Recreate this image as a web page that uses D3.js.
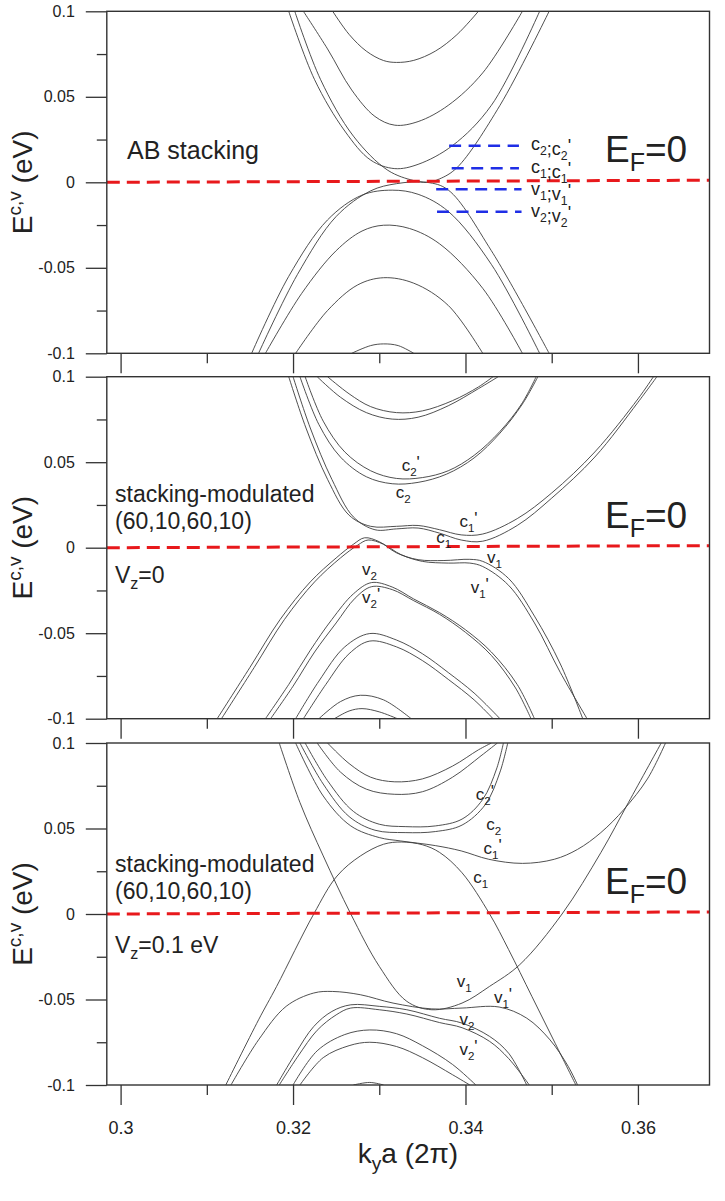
<!DOCTYPE html>
<html>
<head>
<meta charset="utf-8">
<script src="https://cdn.jsdelivr.net/npm/d3@7"></script>
<style>
  body { margin: 0; background: #fff; }
  svg text { font-family: "Liberation Sans", Arial, sans-serif; fill: #222; }
</style>
</head>
<body>
<div class="chart"></div>
<script>
const WIDTH = 725;
const HEIGHT = 1201;
const FONT = "'Liberation Sans', Arial, sans-serif";

// k_y a (2pi) vs E (eV), one array per band
// ---- panel 1 : AB stacking
var ab_c3 = [[0.3246,0.1],[0.3265,0.0865],[0.3285,0.0767],[0.3305,0.0712],[0.3320,0.0701],[0.3340,0.0713],[0.3365,0.0767],[0.3390,0.0863],[0.3415,0.1]];
var ab_c2 = [[0.3212,0.1],[0.3240,0.0780],[0.3268,0.0540],[0.3295,0.0385],[0.3318,0.0334],[0.3345,0.0355],[0.3380,0.0450],[0.3420,0.0640],[0.3466,0.1]];
var ab_c1a = [[0.3195,0.1],[0.3225,0.0600],[0.3260,0.0300],[0.3290,0.0130],[0.3318,0.0080],[0.3345,0.0105],[0.3385,0.0215],[0.3430,0.0450],[0.3486,0.1]];
var ab_c1b = [[0.3202,0.1],[0.3232,0.0600],[0.3270,0.0270],[0.3310,0.0070],[0.3340,0.0010],[0.3355,0.0],[0.3370,0.0020],[0.3390,0.0085],[0.3440,0.0450],[0.3497,0.1]];
var ab_v1a = [[0.3152,-0.1],[0.3195,-0.0550],[0.3240,-0.0220],[0.3280,-0.0075],[0.3315,-0.0046],[0.3345,-0.0070],[0.3380,-0.0170],[0.3430,-0.0480],[0.3486,-0.1]];
var ab_v1b = [[0.3160,-0.1],[0.3205,-0.0540],[0.3250,-0.0200],[0.3290,-0.0050],[0.3320,-0.0008],[0.3355,0.0],[0.3380,-0.0045],[0.3430,-0.0400],[0.3497,-0.1]];
var ab_v2 = [[0.3168,-0.1],[0.3210,-0.0650],[0.3250,-0.0400],[0.3280,-0.0285],[0.3305,-0.0251],[0.3335,-0.0270],[0.3370,-0.0360],[0.3420,-0.0620],[0.3466,-0.1]];
var ab_v3 = [[0.3203,-0.1],[0.3240,-0.0750],[0.3275,-0.0600],[0.3305,-0.0558],[0.3340,-0.0590],[0.3380,-0.0720],[0.3420,-0.1]];
var ab_v4 = [[0.3268,-0.1],[0.3290,-0.0955],[0.3305,-0.0945],[0.3322,-0.0955],[0.3340,-0.1]];

// ---- panel 2 : stacking-modulated, Vz = 0
var md_c3a = [[0.3240,0.1],[0.3265,0.0900],[0.3290,0.0825],[0.3320,0.0790],[0.3350,0.0800],[0.3385,0.0860],[0.3415,0.0940],[0.3432,0.1]];
var md_c3b = [[0.3228,0.1],[0.3255,0.0880],[0.3285,0.0790],[0.3315,0.0752],[0.3345,0.0763],[0.3380,0.0830],[0.3415,0.0930],[0.3438,0.1]];
var md_c2a = [[0.3214,0.1],[0.3235,0.0740],[0.3260,0.0560],[0.3290,0.0450],[0.3320,0.0405],[0.3350,0.0410],[0.3380,0.0450],[0.3410,0.0540],[0.3440,0.0680],[0.3465,0.0840],[0.3482,0.1]];
var md_c2b = [[0.3208,0.1],[0.3230,0.0720],[0.3255,0.0530],[0.3285,0.0415],[0.3315,0.0374],[0.3345,0.0382],[0.3378,0.0430],[0.3410,0.0525],[0.3440,0.0670],[0.3466,0.0840],[0.3484,0.1]];
var md_c1a = [[0.3195,0.1],[0.3215,0.0700],[0.3240,0.0400],[0.3265,0.0190],[0.3290,0.0125],[0.3320,0.0125],[0.3345,0.0130],[0.3370,0.0105],[0.3395,0.0075],[0.3420,0.0080],[0.3460,0.0170],[0.3500,0.0320],[0.3550,0.0560],[0.3600,0.0870],[0.3618,0.1]];
var md_c1b = [[0.3200,0.1],[0.3220,0.0700],[0.3245,0.0400],[0.3270,0.0180],[0.3295,0.0105],[0.3320,0.0110],[0.3345,0.0115],[0.3370,0.0085],[0.3395,0.0045],[0.3420,0.0038],[0.3460,0.0130],[0.3500,0.0290],[0.3550,0.0530],[0.3600,0.0850],[0.3622,0.1]];
var md_v1a = [[0.3112,-0.1],[0.3150,-0.0700],[0.3185,-0.0420],[0.3220,-0.0200],[0.3250,-0.0060],[0.3270,0.0020],[0.3283,0.0058],[0.3300,0.0035],[0.3320,-0.0030],[0.3345,-0.0070],[0.3375,-0.0075],[0.3405,-0.0068],[0.3420,-0.0080],[0.3450,-0.0180],[0.3480,-0.0400],[0.3510,-0.0680],[0.3536,-0.1]];
var md_v1b = [[0.3117,-0.1],[0.3155,-0.0700],[0.3190,-0.0420],[0.3225,-0.0200],[0.3255,-0.0060],[0.3275,0.0015],[0.3287,0.0045],[0.3305,0.0020],[0.3325,-0.0040],[0.3350,-0.0080],[0.3380,-0.0090],[0.3405,-0.0090],[0.3420,-0.0110],[0.3450,-0.0220],[0.3480,-0.0440],[0.3510,-0.0730],[0.3541,-0.1]];
var md_v2a = [[0.3168,-0.1],[0.3195,-0.0800],[0.3220,-0.0600],[0.3245,-0.0420],[0.3270,-0.0270],[0.3291,-0.0204],[0.3315,-0.0230],[0.3340,-0.0300],[0.3370,-0.0380],[0.3400,-0.0480],[0.3430,-0.0610],[0.3460,-0.0800],[0.3480,-0.1]];
var md_v2b = [[0.3174,-0.1],[0.3200,-0.0810],[0.3225,-0.0610],[0.3250,-0.0440],[0.3272,-0.0295],[0.3291,-0.0228],[0.3315,-0.0245],[0.3340,-0.0310],[0.3370,-0.0390],[0.3400,-0.0495],[0.3430,-0.0630],[0.3458,-0.0820],[0.3476,-0.1]];
var md_v3a = [[0.3203,-0.1],[0.3230,-0.0780],[0.3260,-0.0580],[0.3289,-0.0502],[0.3320,-0.0540],[0.3350,-0.0620],[0.3380,-0.0730],[0.3410,-0.0850],[0.3440,-0.1]];
var md_v3b = [[0.3212,-0.1],[0.3238,-0.0800],[0.3265,-0.0620],[0.3289,-0.0546],[0.3320,-0.0580],[0.3350,-0.0660],[0.3380,-0.0770],[0.3410,-0.0890],[0.3432,-0.1]];
var md_v4a = [[0.3230,-0.1],[0.3255,-0.0900],[0.3278,-0.0863],[0.3305,-0.0890],[0.3337,-0.1]];
var md_v4b = [[0.3248,-0.1],[0.3265,-0.0955],[0.3280,-0.0941],[0.3300,-0.0960],[0.3321,-0.1]];

// ---- panel 3 : stacking-modulated, Vz = 0.1 eV
var pm_c3a = [[0.3240,0.1],[0.3265,0.0880],[0.3290,0.0800],[0.3318,0.0773],[0.3350,0.0790],[0.3385,0.0865],[0.3415,0.0960],[0.3430,0.1]];
var pm_c3b = [[0.3228,0.1],[0.3255,0.0830],[0.3285,0.0730],[0.3318,0.0700],[0.3350,0.0715],[0.3385,0.0800],[0.3418,0.0925],[0.3437,0.1]];
var pm_c2a = [[0.3214,0.1],[0.3240,0.0780],[0.3270,0.0600],[0.3300,0.0525],[0.3330,0.0511],[0.3365,0.0515],[0.3396,0.0555],[0.3420,0.0670],[0.3436,0.0848],[0.3444,0.1]];
var pm_c2b = [[0.3208,0.1],[0.3235,0.0760],[0.3265,0.0570],[0.3295,0.0490],[0.3330,0.0476],[0.3365,0.0482],[0.3396,0.0520],[0.3423,0.0640],[0.3440,0.0830],[0.3449,0.1]];
var pm_c1p = [[0.3203,0.1],[0.3235,0.0690],[0.3267,0.0515],[0.3300,0.0447],[0.3325,0.0427],[0.3365,0.0400],[0.3395,0.0369],[0.3427,0.0320],[0.3466,0.0296],[0.3503,0.0320],[0.3530,0.0378],[0.3557,0.0476],[0.3584,0.0613],[0.3611,0.0790],[0.3632,0.1]];
var pm_c1 = [[0.3122,-0.1],[0.3160,-0.0619],[0.3181,-0.0423],[0.3224,0.0],[0.3251,0.0222],[0.3278,0.0339],[0.3305,0.0408],[0.3326,0.0421],[0.3350,0.0405],[0.3370,0.0360],[0.3396,0.0241],[0.3428,0.0],[0.3450,-0.0208],[0.3477,-0.0482],[0.3504,-0.0756],[0.3528,-0.1]];
var pm_v1 = [[0.3184,0.1],[0.3208,0.0652],[0.3235,0.0340],[0.3267,0.0],[0.3300,-0.0306],[0.3332,-0.0511],[0.3361,-0.0560],[0.3396,-0.0521],[0.3428,-0.0423],[0.3463,-0.0296],[0.3512,0.0],[0.3557,0.0359],[0.3589,0.0652],[0.3627,0.1]];
var pm_v1p = [[0.3128,-0.1],[0.3160,-0.0736],[0.3192,-0.0540],[0.3224,-0.0462],[0.3246,-0.0453],[0.3278,-0.0472],[0.3316,-0.0521],[0.3361,-0.0555],[0.3396,-0.0550],[0.3439,-0.0544],[0.3471,-0.0609],[0.3498,-0.0736],[0.3519,-0.0890],[0.3530,-0.1]];
var pm_v2a = [[0.3181,-0.1],[0.3203,-0.0814],[0.3224,-0.0658],[0.3245,-0.0570],[0.3267,-0.0531],[0.3300,-0.0540],[0.3332,-0.0560],[0.3370,-0.0610],[0.3396,-0.0638],[0.3428,-0.0716],[0.3450,-0.0814],[0.3471,-0.1]];
var pm_v2b = [[0.3184,-0.1],[0.3206,-0.0830],[0.3228,-0.0680],[0.3250,-0.0590],[0.3267,-0.0550],[0.3300,-0.0560],[0.3332,-0.0585],[0.3370,-0.0635],[0.3396,-0.0665],[0.3428,-0.0745],[0.3450,-0.0845],[0.3474,-0.1]];
var pm_v3a = [[0.3200,-0.1],[0.3228,-0.0800],[0.3260,-0.0705],[0.3289,-0.0678],[0.3320,-0.0700],[0.3350,-0.0770],[0.3385,-0.0880],[0.3412,-0.1]];
var pm_v3b = [[0.3208,-0.1],[0.3235,-0.0840],[0.3265,-0.0770],[0.3289,-0.0750],[0.3320,-0.0775],[0.3350,-0.0840],[0.3385,-0.0940],[0.3405,-0.1]];
var pm_v4 = [[0.3270,-0.1],[0.3289,-0.0985],[0.3305,-0.1]];

// Fermi level (dashed red), slightly tilted in the original
var fermiLine = [[0.2984,0.0],[0.3683,0.0012]];

// blue markers in panel 1: [E, kStart, kEnd]
var abLevels = [[0.0214,0.3381,0.3462],[0.0082,0.3384,0.3462],[-0.0041,0.3366,0.3465],[-0.0172,0.3367,0.3465]];
// labels: [letter, subscript, prime, k, E]
var abLevelLabels = [["c","2",true,0.3476,0.0189],["c","1",true,0.3476,0.0056],["v","1",true,0.3476,-0.0074],["v","2",true,0.3476,-0.0203]];
var mdLabels = [["c","2",true,0.3326,0.0449],["c","2",false,0.3319,0.0291],["c","1",true,0.3393,0.0121],["c","1",false,0.3366,0.0027],
                ["v","1",false,0.3425,-0.0089],["v","1",true,0.3406,-0.0265],["v","2",false,0.3280,-0.0160],["v","2",true,0.3280,-0.0323]];
var pmLabels = [["c","2",true,0.3412,0.0667],["c","2",false,0.3424,0.0491],["c","1",true,0.3421,0.0350],["c","1",false,0.3409,0.0181],
                ["v","1",false,0.3390,-0.0427],["v","1",true,0.3433,-0.0520],["v","2",false,0.3393,-0.0649],["v","2",true,0.3393,-0.0825]];

var xMajor = [0.30, 0.32, 0.34, 0.36];
var xMinor = [0.31, 0.33, 0.35];
var yMajor = [-0.1, -0.05, 0, 0.05, 0.1];
var yMinor = [-0.075, -0.025, 0.025, 0.075];

var panels = [
  { bands: [ab_c3, ab_c2, ab_c1a, ab_c1b, ab_v1a, ab_v1b, ab_v2, ab_v3, ab_v4], labels: [], lines: ["AB stacking"], levels: true },
  { bands: [md_c3a, md_c3b, md_c2a, md_c2b, md_c1a, md_c1b, md_v1a, md_v1b, md_v2a, md_v2b, md_v3a, md_v3b, md_v4a, md_v4b],
    labels: mdLabels, lines: ["stacking-modulated", "(60,10,60,10)"], vz: "=0" },
  { bands: [pm_c3a, pm_c3b, pm_c2a, pm_c2b, pm_c1p, pm_c1, pm_v1, pm_v1p, pm_v2a, pm_v2b, pm_v3a, pm_v3b, pm_v4],
    labels: pmLabels, lines: ["stacking-modulated", "(60,10,60,10)"], vz: "=0.1 eV" }
];

var TOPS = [11.3, 376.7, 743];
var PH = 342;
var X0 = 106.8, X1 = 709.5;

var svg = d3.select(".chart").append("svg")
  .attr("width", WIDTH)
  .attr("height", HEIGHT)
  .attr("font-family", FONT);

var x = d3.scaleLinear().domain([0.2984, 0.3683]).range([X0, X1]);
var y = d3.scaleLinear().domain([-0.1, 0.1]).range([PH, 0]);

var line = d3.line()
  .x(function (d) { return x(d[0]); })
  .y(function (d) { return y(d[1]); })
  .curve(d3.curveCatmullRom.alpha(0.5));

svg.append("clipPath").attr("id", "clip")
  .append("rect").attr("x", X0).attr("y", 0).attr("width", X1 - X0).attr("height", PH);

// letter, subscript, optional prime sitting just above the subscript
var addSub = function (t, letter, sub, prime, size) {
  var dsub = size * 0.28;
  t.append("tspan").text(letter);
  t.append("tspan").attr("dy", dsub).style("font-size", (size * 0.68) + "px").text(sub);
  if (prime) {
    t.append("tspan").attr("dy", -dsub - 3).text("'");
    t.append("tspan").attr("dy", 3).text("");
  } else {
    t.append("tspan").attr("dy", -dsub).text("");
  }
};

panels.forEach(function (p, i) {
  var g = svg.append("g").attr("transform", "translate(0," + TOPS[i] + ")");

  // axes
  var yAx = g.append("g").attr("transform", "translate(" + X0 + ",0)")
    .call(d3.axisLeft(y).tickValues(yMajor).tickSize(21).tickPadding(11).tickFormat(function (d) { return String(d); }));
  g.append("g").attr("transform", "translate(" + X0 + ",0)")
    .call(d3.axisLeft(y).tickValues(yMinor).tickSize(10).tickFormat(""));
  var xAx = g.append("g").attr("transform", "translate(0," + PH + ")")
    .call(d3.axisBottom(x).tickValues(xMajor).tickSize(20).tickFormat(function (d) { return String(d); }));
  g.append("g").attr("transform", "translate(0," + PH + ")")
    .call(d3.axisBottom(x).tickValues(xMinor).tickSize(10).tickFormat(""));
  g.selectAll(".domain").remove();
  g.selectAll(".tick line").attr("stroke", "#333").attr("stroke-width", 1.3);
  g.selectAll("g").attr("font-family", FONT);
  yAx.selectAll("text").attr("font-size", 16).attr("fill", "#222");
  if (i < 2) xAx.selectAll("text").remove();
  else xAx.selectAll("text").attr("y", 49).attr("dy", null).attr("font-size", 18).attr("fill", "#222");

  // bands
  var plot = g.append("g").attr("clip-path", "url(#clip)");
  plot.selectAll("path.band")
    .data(p.bands)
    .enter()
    .append("path")
    .attr("class", "band")
    .attr("d", line)
    .attr("fill", "none")
    .attr("stroke", "#3c3c3c")
    .attr("stroke-width", 0.9);

  // Fermi level
  plot.append("path")
    .attr("d", d3.line().x(function (d) { return x(d[0]); }).y(function (d) { return y(d[1]); })(fermiLine))
    .attr("stroke", "#e8191c").attr("stroke-width", 3).attr("stroke-dasharray", "13,7").attr("fill", "none");

  if (p.levels) {
    plot.selectAll("line.lvl")
      .data(abLevels)
      .enter()
      .append("line")
      .attr("x1", function (d) { return x(d[1]); })
      .attr("x2", function (d) { return x(d[2]); })
      .attr("y1", function (d) { return y(d[0]); })
      .attr("y2", function (d) { return y(d[0]); })
      .attr("stroke", "#1f2ee6").attr("stroke-width", 2.6).attr("stroke-dasharray", "12,7.5");
    abLevelLabels.forEach(function (d) {
      var t = g.append("text").attr("x", x(d[3])).attr("y", y(d[4])).style("font-size", "18px");
      addSub(t, d[0], d[1], false, 18);
      t.append("tspan").text(";");
      addSub(t, d[0], d[1], d[2], 18);
    });
  }

  p.labels.forEach(function (d) {
    var t = g.append("text").attr("x", x(d[3])).attr("y", y(d[4])).style("font-size", "17px");
    addSub(t, d[0], d[1], d[2], 17);
  });

  // frame
  g.append("rect").attr("x", X0).attr("y", 0).attr("width", X1 - X0).attr("height", PH)
    .attr("fill", "none").attr("stroke", "#333").attr("stroke-width", 1.4);

  // annotations
  var ann = g.append("g");
  if (i === 0) {
    ann.append("text").attr("x", 127).attr("y", 148).style("font-size", "25px").text(p.lines[0]);
  } else {
    var base = i === 1 ? 125 : 128.7;
    ann.append("text").attr("x", 115).attr("y", base).style("font-size", "23px").text(p.lines[0]);
    ann.append("text").attr("x", 115).attr("y", base + 27).style("font-size", "23px").text(p.lines[1]);
    var vz = ann.append("text").attr("x", 115).attr("y", base + 81).style("font-size", "23px");
    vz.append("tspan").text("V");
    vz.append("tspan").attr("dy", 6).style("font-size", "16px").text("z");
    vz.append("tspan").attr("dy", -6).text(p.vz);
  }
  var ef = ann.append("text").attr("x", 605).attr("y", 151).style("font-size", "37px");
  ef.append("tspan").text("E");
  ef.append("tspan").attr("dy", 9).style("font-size", "25px").text("F");
  ef.append("tspan").attr("dy", -9).text("=0");

  // y title
  var yt = g.append("text")
    .attr("transform", "translate(32," + (PH / 2) + ") rotate(-90)")
    .attr("text-anchor", "middle")
    .style("font-size", "28px");
  yt.append("tspan").text("E");
  yt.append("tspan").attr("dy", -11).style("font-size", "19px").text("c,v");
  yt.append("tspan").attr("dy", 11).text(" (eV)");
});

// x title
var xt = svg.append("text")
  .attr("x", 408).attr("y", 1163)
  .attr("text-anchor", "middle")
  .style("font-size", "28px");
xt.append("tspan").text("k");
xt.append("tspan").attr("dy", 7).style("font-size", "19px").text("y");
xt.append("tspan").attr("dy", -7).text("a (2\u03c0)");
</script>
</body>
</html>
